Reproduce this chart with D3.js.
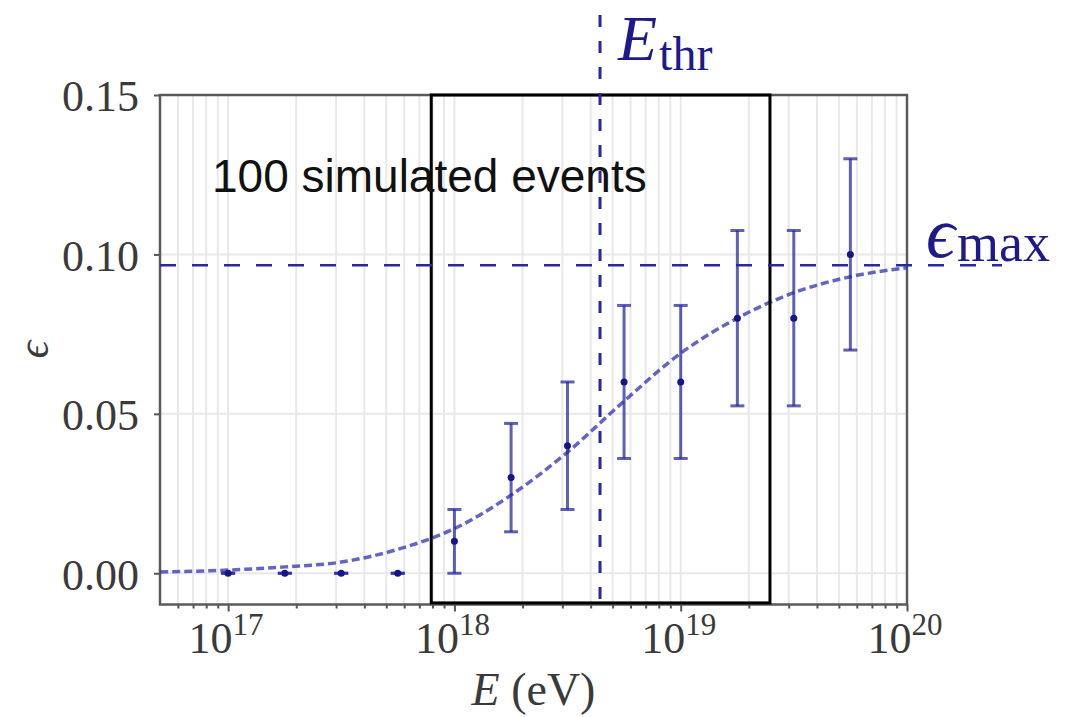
<!DOCTYPE html>
<html>
<head>
<meta charset="utf-8">
<script src="https://cdn.jsdelivr.net/npm/d3@7"></script>
<style>
  body { margin: 0; background: #fff; }
  svg { display: block; }
</style>
</head>
<body>
<script>
// data
const energies = [1e17, 1.78e17, 3.16e17, 5.62e17, 1e18, 1.78e18, 3.16e18, 5.62e18, 1e19, 1.78e19, 3.16e19, 5.62e19]
const efficiency = [0, 0, 0, 0, 0.01, 0.03, 0.04, 0.06, 0.06, 0.08, 0.08, 0.10]
const errors = [0, 0, 0, 0, 0.010, 0.017, 0.020, 0.024, 0.024, 0.0275, 0.0275, 0.030]

// fitted curve, sampled from the figure
const fitLogE = [16.7, 17, 17.25, 17.5, 17.75, 18, 18.25, 18.5, 18.75, 19, 19.25, 19.5, 19.75, 20]
const fitEff = [0.0004, 0.001, 0.002, 0.0035, 0.0075, 0.014, 0.0245, 0.038, 0.054, 0.069, 0.080, 0.088, 0.093, 0.0958]

const majorTicks = [1e17, 1e18, 1e19, 1e20]
const yTicks = [0, 0.05, 0.10, 0.15]
const eThr = 4.4e18
const epsMax = 0.0966
const boxE = [7.9e17, 2.48e19]
const boxEps = [-0.0093, 0.15]
const boxLabel = "100 simulated events"

function drawChart() {
  const dimensions = {
    width: 1078,
    height: 717,
    left: 160,
    right: 907,
    top: 95,
    bottom: 604.5,
  }
  const blue = "#1e1a8e"
  const serif = "'Liberation Serif', 'DejaVu Serif', serif"

  const svg = d3.select("body")
    .append("svg")
      .attr("width", dimensions.width)
      .attr("height", dimensions.height)

  svg.append("rect")
      .attr("width", dimensions.width)
      .attr("height", dimensions.height)
      .attr("fill", "#fff")

  // scales
  const xScale = d3.scaleLog()
    .domain([5e16, 1e20])
    .range([dimensions.left, dimensions.right])

  const yScale = d3.scaleLinear()
    .domain([-0.0098, 0.15])
    .range([dimensions.bottom, dimensions.top])

  const plotH = dimensions.bottom - dimensions.top
  const plotW = dimensions.right - dimensions.left

  // minor tick positions 2..9 x 10^n inside the domain
  const minorTicks = []
  for (let p = 16; p < 20; p++) {
    for (let m = 2; m <= 9; m++) {
      const v = m * Math.pow(10, p)
      if (v > 5e16 && v < 1e20) minorTicks.push(v)
    }
  }

  // grid
  const grid = svg.append("g")
    .attr("stroke", "#e8e8e8")
    .attr("stroke-width", 2)
  grid.selectAll(".vgrid")
    .data(minorTicks.concat(majorTicks))
    .join("line")
      .attr("x1", d => xScale(d))
      .attr("x2", d => xScale(d))
      .attr("y1", dimensions.top)
      .attr("y2", dimensions.bottom)
  grid.selectAll(".hgrid")
    .data(yTicks)
    .join("line")
      .attr("x1", dimensions.left)
      .attr("x2", dimensions.right)
      .attr("y1", d => yScale(d))
      .attr("y2", d => yScale(d))

  // axes
  const xAxisMajor = d3.axisBottom(xScale)
    .tickValues(majorTicks)
    .tickSize(7)
    .tickFormat("")
  const xAxisMinor = d3.axisBottom(xScale)
    .tickValues(minorTicks)
    .tickSize(4)
    .tickFormat("")

  const xAxis = svg.append("g")
    .attr("transform", `translate(0,${dimensions.bottom})`)
  xAxis.append("g").call(xAxisMajor)
  xAxis.append("g").call(xAxisMinor)
  xAxis.selectAll(".domain").remove()
  xAxis.selectAll("line")
    .attr("stroke", "#555")
    .attr("stroke-width", 2)

  const xLabels = svg.append("g")
    .attr("font-family", serif)
    .attr("fill", "#3a3a3a")
  majorTicks.forEach(t => {
    const txt = xLabels.append("text")
      .attr("x", xScale(t) - 2)
      .attr("y", 653)
      .attr("text-anchor", "middle")
      .attr("font-size", 44)
    txt.append("tspan").text("10")
    txt.append("tspan")
      .attr("dy", -18)
      .attr("font-size", 31)
      .text(Math.round(Math.log10(t)))
  })

  const yAxisGenerator = d3.axisLeft(yScale)
    .tickValues(yTicks)
    .tickSize(6)
    .tickPadding(15)
    .tickFormat(d3.format(".2f"))

  const yAxis = svg.append("g")
    .attr("transform", `translate(${dimensions.left},0)`)
    .call(yAxisGenerator)
  yAxis.select(".domain").remove()
  yAxis.selectAll("line")
    .attr("stroke", "#555")
    .attr("stroke-width", 2)
  yAxis.selectAll("text")
    .attr("font-family", serif)
    .attr("font-size", 44)
    .attr("fill", "#3a3a3a")
    .attr("dy", "0.36em")

  // frame
  svg.append("rect")
    .attr("x", dimensions.left)
    .attr("y", dimensions.top)
    .attr("width", plotW)
    .attr("height", plotH)
    .attr("fill", "none")
    .attr("stroke", "#5a5a5a")
    .attr("stroke-width", 2.5)

  // axis titles
  const xTitle = svg.append("text")
    .attr("x", (dimensions.left + dimensions.right) / 2)
    .attr("y", 705)
    .attr("text-anchor", "middle")
    .attr("font-family", serif)
    .attr("font-size", 46)
    .attr("fill", "#3a3a3a")
  xTitle.append("tspan").attr("font-style", "italic").text("E")
  xTitle.append("tspan").text(" (eV)")

  svg.append("text")
    .attr("transform", `translate(48,${(dimensions.top + dimensions.bottom) / 2}) rotate(-90)`)
    .attr("text-anchor", "middle")
    .attr("font-family", serif)
    .attr("font-style", "italic")
    .attr("font-size", 44)
    .attr("fill", "#3a3a3a")
    .text("\u03f5")

  // fit curve
  const fitLine = d3.line()
    .x((d, i) => xScale(Math.pow(10, d)))
    .y((d, i) => yScale(fitEff[i]))
    .curve(d3.curveMonotoneX)

  svg.append("path")
    .datum(fitLogE)
    .attr("d", fitLine)
    .attr("fill", "none")
    .attr("stroke", "rgba(50,50,180,0.75)")
    .attr("stroke-width", 3.5)
    .attr("stroke-dasharray", "8 4")

  // error bars
  const bars = svg.append("g")
    .attr("stroke", "rgba(35,35,160,0.72)")
    .attr("stroke-width", 3)
  energies.forEach((e, i) => {
    const x = xScale(e)
    const lo = yScale(efficiency[i] - errors[i])
    const hi = yScale(efficiency[i] + errors[i])
    bars.append("line").attr("x1", x).attr("x2", x).attr("y1", lo).attr("y2", hi)
    bars.append("line").attr("x1", x - 7).attr("x2", x + 7).attr("y1", lo).attr("y2", lo)
    bars.append("line").attr("x1", x - 7).attr("x2", x + 7).attr("y1", hi).attr("y2", hi)
  })

  svg.append("g")
    .selectAll("circle")
    .data(energies)
    .join("circle")
      .attr("cx", d => xScale(d))
      .attr("cy", (d, i) => yScale(efficiency[i]))
      .attr("r", 3.5)
      .attr("fill", "#16148a")

  // selection box
  svg.append("rect")
    .attr("x", xScale(boxE[0]))
    .attr("y", yScale(boxEps[1]))
    .attr("width", xScale(boxE[1]) - xScale(boxE[0]))
    .attr("height", yScale(boxEps[0]) - yScale(boxEps[1]))
    .attr("fill", "none")
    .attr("stroke", "#000")
    .attr("stroke-width", 3)

  svg.append("text")
    .attr("x", 212)
    .attr("y", 192)
    .attr("font-family", "'Liberation Sans', Arial, sans-serif")
    .attr("font-size", 46)
    .attr("fill", "#111")
    .text(boxLabel)

  // threshold lines
  svg.append("line")
    .attr("x1", xScale(eThr))
    .attr("x2", xScale(eThr))
    .attr("y1", 15)
    .attr("y2", dimensions.bottom)
    .attr("stroke", "#2a28a0")
    .attr("stroke-width", 3)
    .attr("stroke-dasharray", "12 14")

  svg.append("line")
    .attr("x1", dimensions.left)
    .attr("x2", 1002)
    .attr("y1", yScale(epsMax))
    .attr("y2", yScale(epsMax))
    .attr("stroke", "#2a28a0")
    .attr("stroke-width", 2.5)
    .attr("stroke-dasharray", "16 16")

  const thrLabel = svg.append("text")
    .attr("x", 618)
    .attr("y", 60)
    .attr("font-family", serif)
    .attr("fill", blue)
  thrLabel.append("tspan")
    .attr("font-style", "italic")
    .attr("font-size", 64)
    .text("E")
  thrLabel.append("tspan")
    .attr("dy", 10)
    .attr("dx", 2)
    .attr("font-size", 48)
    .text("thr")

  const maxLabel = svg.append("text")
    .attr("x", 926)
    .attr("y", 257)
    .attr("font-family", serif)
    .attr("fill", blue)
  maxLabel.append("tspan")
    .attr("font-style", "italic")
    .attr("font-size", 72)
    .text("\u03f5")
  maxLabel.append("tspan")
    .attr("dy", 4)
    .attr("dx", 2)
    .attr("font-size", 54)
    .text("max")
}
drawChart()
</script>
</body>
</html>
